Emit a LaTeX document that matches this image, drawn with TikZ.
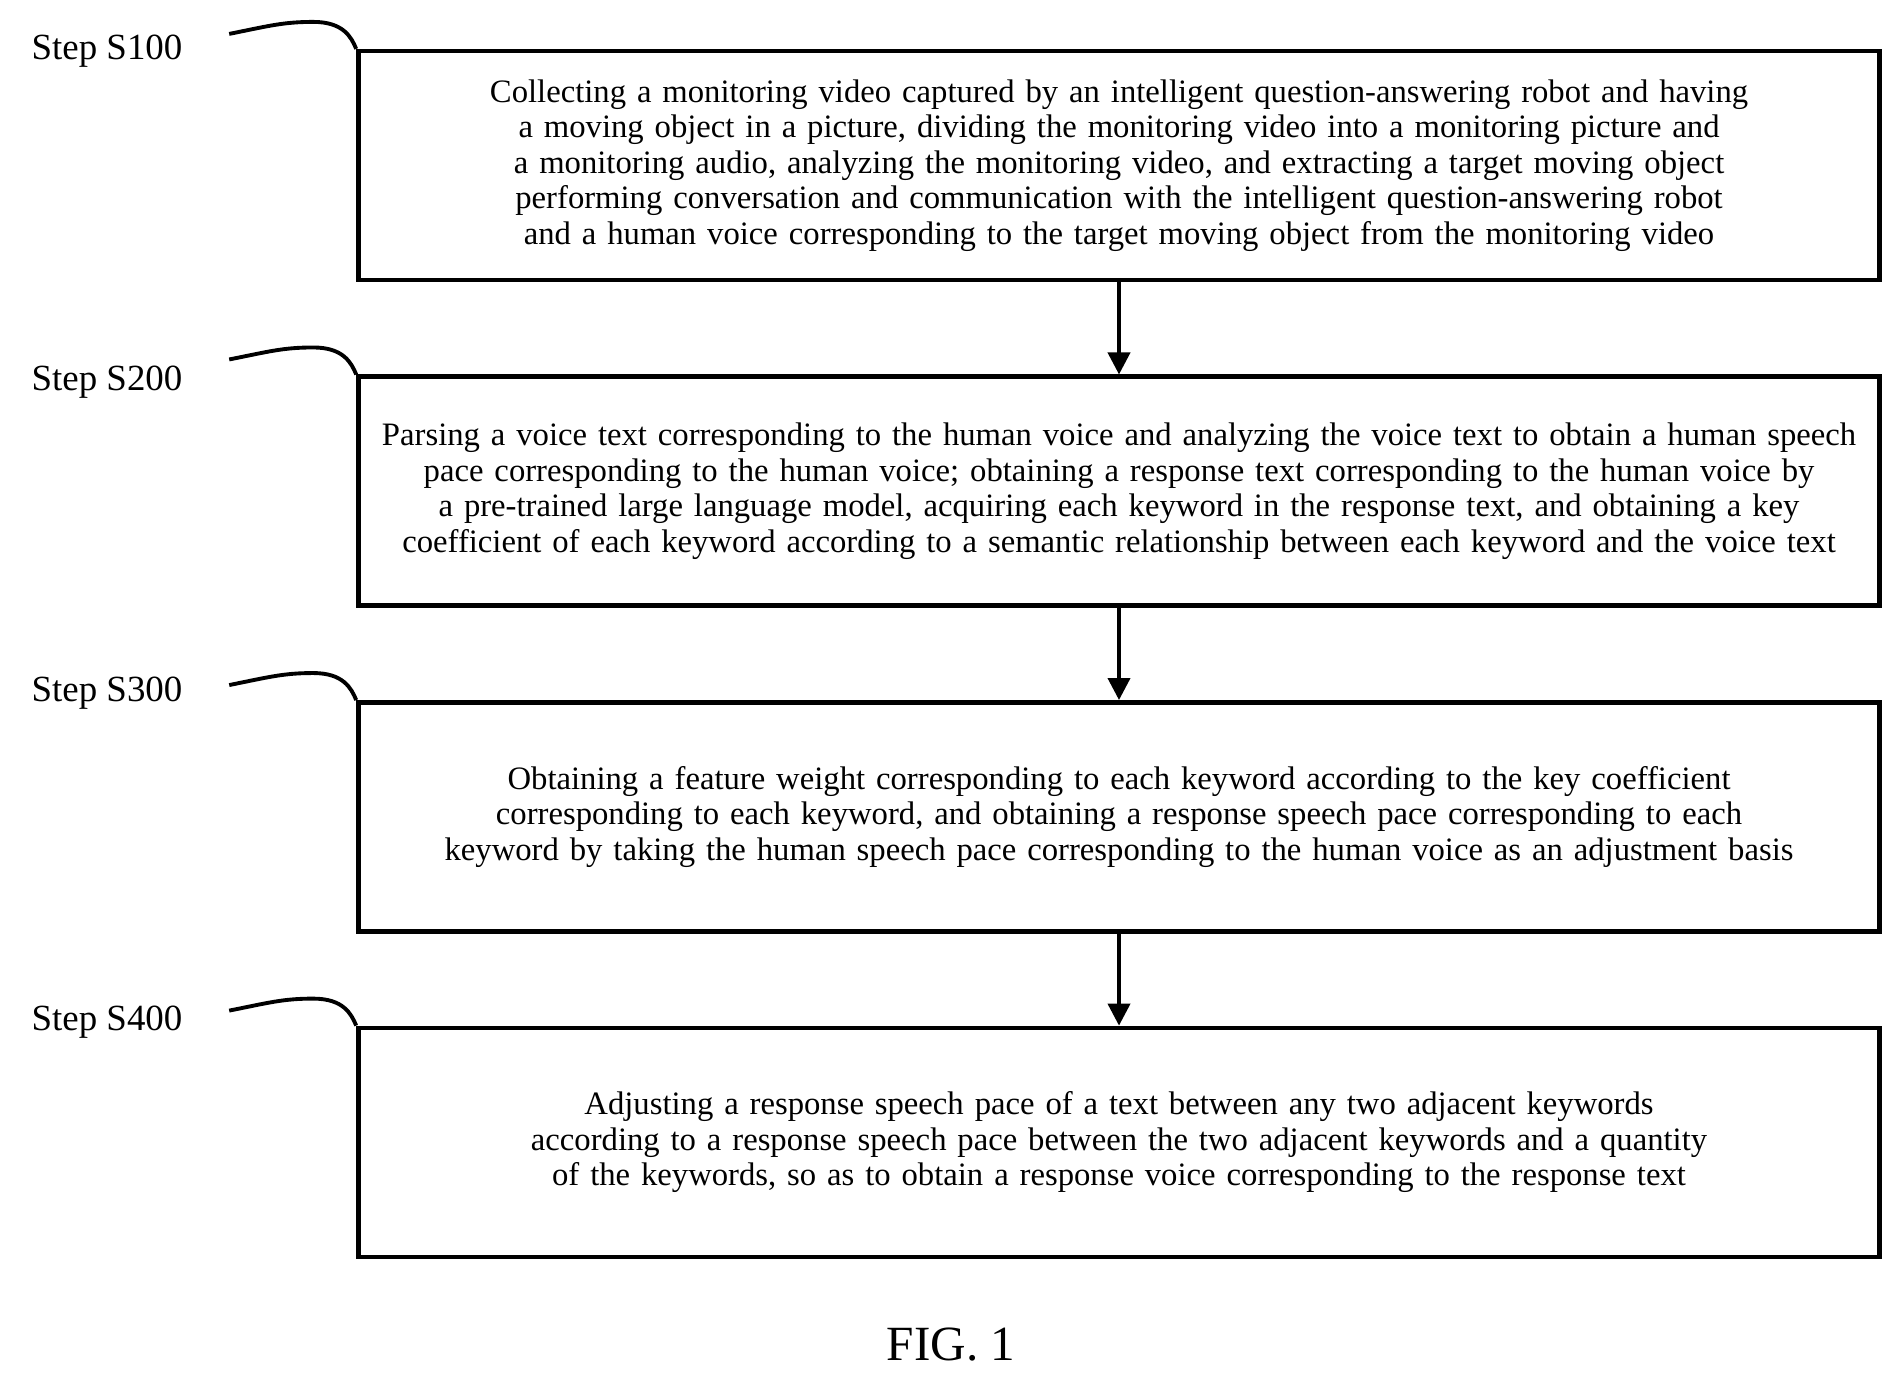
\documentclass[tikz,border=0pt]{standalone}
\usepackage{fontspec}
\setmainfont{Liberation Serif}
\usetikzlibrary{positioning,arrows.meta}

\newcommand\boxfont{\fontsize{9.3pt}{10.1pt}\selectfont\hyphenpenalty=10000\relax\exhyphenpenalty=10000\relax}

\tikzset{
  stepbox/.style={draw, line width=1.3pt, minimum width=15.21cm, minimum height=2.29cm,
    text width=15.1cm, align=center, inner sep=0pt, font=\boxfont},
  steplabel/.style={font=\fontsize{10.5pt}{12pt}\selectfont, anchor=center},
  flow/.style={-{Triangle[length=2.2mm,width=2.2mm]}, line width=1.1pt}
}

\begin{document}
\begin{tikzpicture}
    \useasboundingbox (0,0) rectangle (19.03,-13.84);

    \node[stepbox] (s100) at (11.19,-1.657) {Collecting a monitoring video captured by an intelligent question-answering robot and having a moving object in a picture, dividing the monitoring video into a monitoring picture and a monitoring audio, analyzing the monitoring video, and extracting a target moving object performing conversation and communication with the intelligent question-answering robot and a human voice corresponding to the target moving object from the monitoring video};
    \node[stepbox, below=0.92cm of s100] (s200) {Parsing a voice text corresponding to the human voice and analyzing the voice text to obtain a human speech pace corresponding to the human voice; obtaining a response text corresponding to the human voice by a pre-trained large language model, acquiring each keyword in the response text, and obtaining a key coefficient of each keyword according to a semantic relationship between each keyword and the voice text};
    \node[stepbox, below=0.92cm of s200] (s300) {Obtaining a feature weight corresponding to each keyword according to the key coefficient corresponding to each keyword, and obtaining a response speech pace corresponding to each keyword by taking the human speech pace corresponding to the human voice as an adjustment basis};
    \node[stepbox, below=0.92cm of s300] (s400) {Adjusting a response speech pace of a text between any two adjacent keywords according to a response speech pace between the two adjacent keywords and a quantity of the keywords, so as to obtain a response voice corresponding to the response text};

    \draw[flow] (s100) -- (s200);
    \draw[flow] (s200) -- (s300);
    \draw[flow] (s300) -- (s400);

    % step labels with bracket curves
    \foreach \s/\ly in {s100/-0.51, s200/-3.82, s300/-6.93, s400/-10.22}{
        \node[steplabel] (lab\s) at (1.07,\ly) {Step \MakeUppercase{\s}};
        \coordinate (c\s) at ([xshift=-1.27cm,yshift=0.15cm]\s.north west);
        \draw[line width=1.1pt] (c\s) .. controls +(0.4,0.08) and +(-0.3,0) .. ([xshift=-0.43cm,yshift=0.27cm]\s.north west)
            .. controls +(0.3,0) and +(-0.05,0.12) .. (\s.north west);
    }

    \node[font=\fontsize{14pt}{16pt}\selectfont] (fig) at (9.51,-13.45) {FIG. 1};
\end{tikzpicture}
\end{document}
